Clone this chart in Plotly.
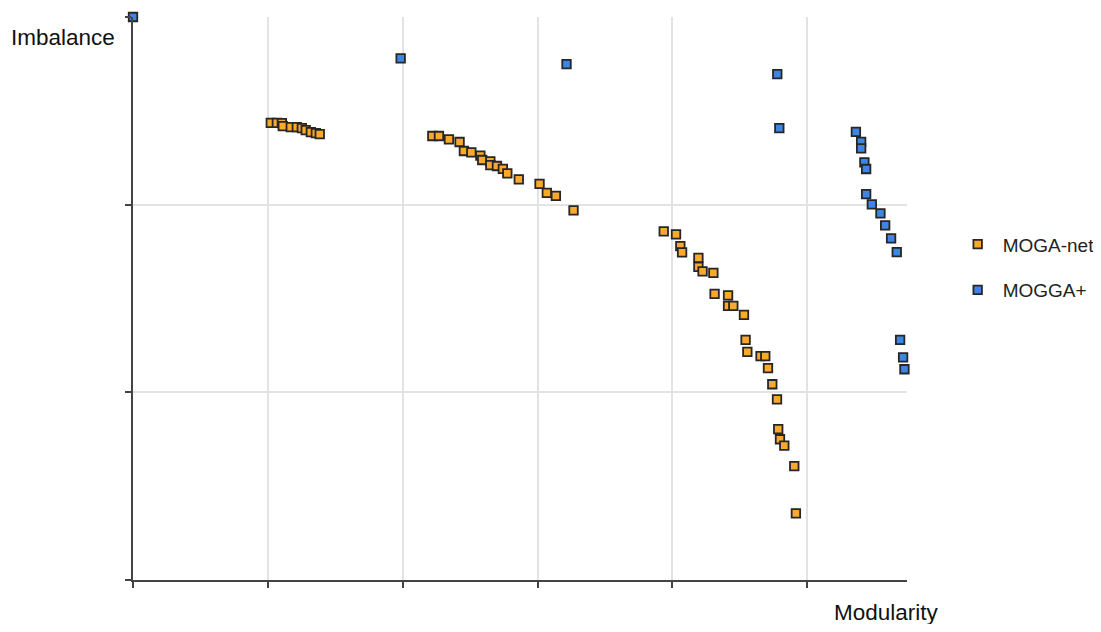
import plotly.graph_objects as go

# MOGA-net (orange) points: (Modularity, Imbalance)
moga_x = [1.022, 1.067, 1.104, 1.111, 1.170, 1.215, 1.252, 1.281, 1.319, 1.356, 1.385,
          2.220, 2.269, 2.343, 2.422, 2.454, 2.509, 2.576, 2.590, 2.650, 2.650, 2.699,
          2.743, 2.776, 2.861, 3.015, 3.069, 3.136, 3.267,
          3.936, 4.027, 4.059, 4.072, 4.193, 4.193, 4.224, 4.304, 4.313, 4.413, 4.413,
          4.452, 4.531, 4.543, 4.556, 4.654, 4.689, 4.709, 4.741, 4.776, 4.785, 4.798,
          4.830, 4.904, 4.916]
moga_y = [2.436, 2.436, 2.435, 2.419, 2.413, 2.413, 2.408, 2.397, 2.387, 2.381, 2.376,
          2.366, 2.366, 2.348, 2.334, 2.286, 2.279, 2.261, 2.238, 2.231, 2.211, 2.206,
          2.191, 2.167, 2.135, 2.111, 2.063, 2.047, 1.970,
          1.858, 1.842, 1.779, 1.746, 1.716, 1.669, 1.645, 1.637, 1.525, 1.517, 1.461,
          1.461, 1.413, 1.279, 1.216, 1.193, 1.193, 1.129, 1.043, 0.963, 0.804, 0.750,
          0.716, 0.607, 0.355]

# MOGGA+ (blue) points
mogga_x = [0.000, 1.985, 3.215, 4.778, 4.793,
           5.361, 5.400, 5.400, 5.424, 5.437, 5.437, 5.479, 5.543, 5.578, 5.622, 5.664,
           5.689, 5.711, 5.721]
mogga_y = [3.000, 2.780, 2.749, 2.696, 2.408,
           2.388, 2.335, 2.300, 2.225, 2.190, 2.056, 2.002, 1.954, 1.890, 1.820, 1.747,
           1.280, 1.186, 1.123]

x_ticks = [0, 1, 2, 3, 4, 5]
y_ticks = [0, 1, 2, 3]

FONT = "Liberation Sans, Arial, sans-serif"
outline = dict(color="#262626", width=1.8)

fig = go.Figure()
fig.add_trace(go.Scatter(
    x=moga_x, y=moga_y, mode="markers", name="MOGA-net", legendgroup="a",
    marker=dict(symbol="square", size=8.5, color="#FBA92C", line=outline),
    cliponaxis=False))
fig.add_trace(go.Scatter(
    x=mogga_x, y=mogga_y, mode="markers", name="MOGGA+", legendgroup="b",
    marker=dict(symbol="square", size=8.5, color="#3D86E4", line=outline),
    cliponaxis=False))

axis_common = dict(showticklabels=False, ticks="outside", ticklen=6, tickwidth=2,
                   tickcolor="#444", showline=True, linecolor="#444", linewidth=2,
                   showgrid=True, gridcolor="#e3e3e3", gridwidth=1.5, zeroline=False)

fig.update_layout(
    width=1093, height=616,
    margin=dict(l=125, r=194, t=9, b=44, autoexpand=False),
    paper_bgcolor="white", plot_bgcolor="white",
    xaxis=dict(range=[0, 5.74], tickvals=x_ticks, **axis_common),
    yaxis=dict(range=[0, 3.0], tickvals=y_ticks, **axis_common),
    showlegend=True,
    legend=dict(x=1.059, y=0.63, xanchor="left", yanchor="top",
                font=dict(family=FONT, size=19, color="#222"),
                traceorder="grouped", tracegroupgap=18, itemwidth=40),
    annotations=[
        dict(text="Imbalance", xref="paper", yref="paper", x=-0.0905, y=0.963,
             xanchor="center", yanchor="middle", showarrow=False,
             font=dict(family=FONT, size=22.5, color="#111")),
        dict(text="Modularity", xref="paper", yref="paper", x=0.973, y=-0.0586,
             xanchor="center", yanchor="middle", showarrow=False,
             font=dict(family=FONT, size=22.5, color="#111")),
    ],
)

fig.write_html("out.html")
